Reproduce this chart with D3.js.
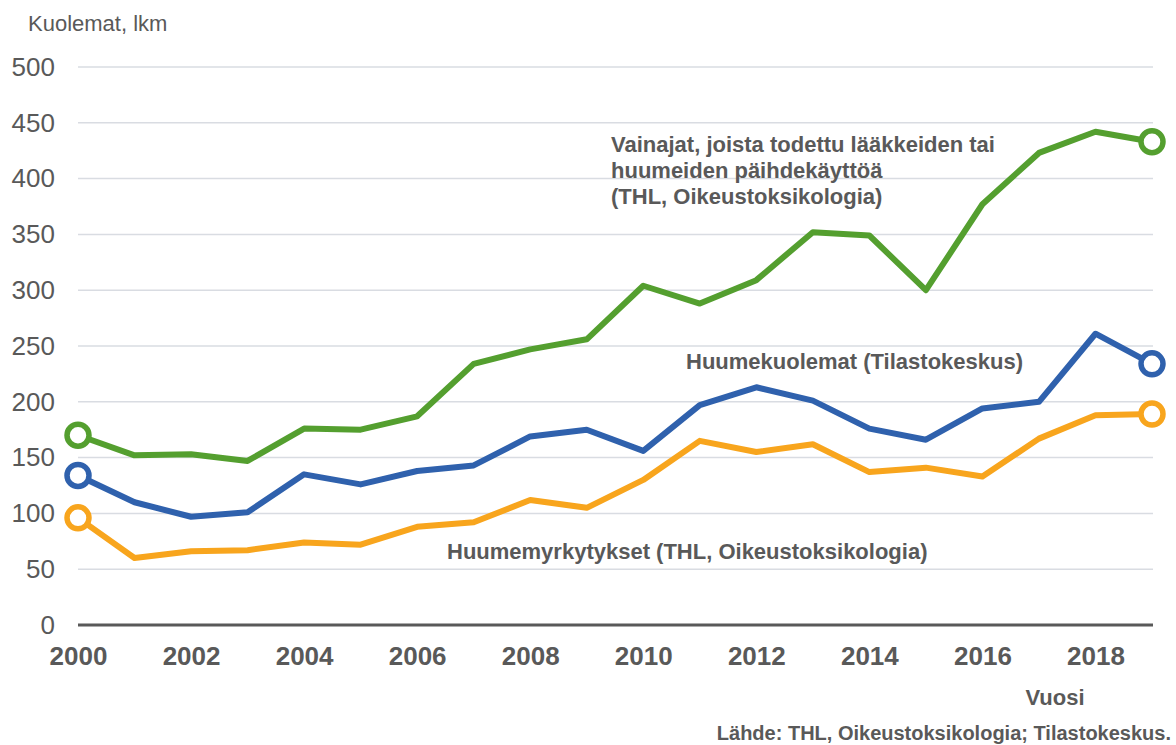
<!DOCTYPE html>
<html>
<head>
<meta charset="utf-8">
<script src="https://cdn.jsdelivr.net/npm/d3@7"></script>
<style>
  body { margin: 0; background: #fff; }
  svg text { font-family: "Liberation Sans", Arial, sans-serif; fill: #595959; }
</style>
</head>
<body>
<div id="chart"></div>
<script>
var years = d3.range(2000, 2020);
var vainajat = [170, 152, 153, 147, 176, 175, 187, 234, 247, 256, 304, 288, 309, 352, 349, 300, 377, 423, 442, 433];
var huumekuolemat = [134, 110, 97, 101, 135, 126, 138, 143, 169, 175, 156, 197, 213, 201, 176, 166, 194, 200, 261, 234];
var myrkytykset = [96, 60, 66, 67, 74, 72, 88, 92, 112, 105, 130, 165, 155, 162, 137, 141, 133, 167, 188, 189];
var yTicks = [0, 50, 100, 150, 200, 250, 300, 350, 400, 450, 500];
var xTicks = [2000, 2002, 2004, 2006, 2008, 2010, 2012, 2014, 2016, 2018];

var series = [
    { name: "vainajat", values: vainajat, color: "#549f2f" },
    { name: "huumekuolemat", values: huumekuolemat, color: "#2f61ad" },
    { name: "myrkytykset", values: myrkytykset, color: "#f8a51d" }
];

var width = 1176, height = 745;
var margin = { top: 67, right: 24, bottom: 120, left: 78 };
var innerH = height - margin.top - margin.bottom;

var svg = d3.select("#chart").append("svg")
    .attr("width", width)
    .attr("height", height);

var g = svg.append("g")
    .attr("transform", "translate(" + margin.left + "," + margin.top + ")");

var xScale = d3.scaleLinear().domain([2000, 2019]).range([0, 1074]);
var yScale = d3.scaleLinear().domain([0, 500]).range([innerH + 0, 0]);

// grid
g.selectAll(".grid")
    .data(yTicks.filter(function (d) { return d > 0; }))
    .enter().append("line")
    .attr("class", "grid")
    .attr("x1", 0)
    .attr("x2", 1075)
    .attr("y1", function (d) { return yScale(d); })
    .attr("y2", function (d) { return yScale(d); })
    .attr("stroke", "#d9dce2")
    .attr("stroke-width", 1.5);

// y labels
var yAxis = g.append("g")
    .call(d3.axisLeft(yScale).tickValues(yTicks).tickSize(0).tickPadding(23));
yAxis.select(".domain").remove();
yAxis.selectAll("text")
    .style("font-size", "26px")
    .attr("fill", "#595959");

// x axis
var xAxis = g.append("g")
    .attr("transform", "translate(0," + yScale(0) + ")")
    .call(d3.axisBottom(xScale).tickValues(xTicks).tickFormat(d3.format("d")).tickSize(0).tickPadding(22));
xAxis.select(".domain")
    .attr("stroke", "#595959")
    .attr("stroke-width", 3)
    .attr("d", "M0,0H1075");
xAxis.selectAll("text")
    .style("font-size", "26px")
    .style("font-weight", "bold")
    .attr("fill", "#595959");

var line = d3.line()
    .x(function (d, i) { return xScale(years[i]); })
    .y(function (d) { return yScale(d); });

series.forEach(function (s) {
    g.append("path")
        .datum(s.values)
        .attr("fill", "none")
        .attr("stroke", s.color)
        .attr("stroke-width", 6)
        .attr("stroke-linejoin", "round")
        .attr("d", line);

    var ends = [0, s.values.length - 1];
    g.selectAll(".m-" + s.name)
        .data(ends)
        .enter().append("circle")
        .attr("cx", function (i) { return xScale(years[i]); })
        .attr("cy", function (i) { return yScale(s.values[i]); })
        .attr("r", 11)
        .attr("fill", "#fff")
        .attr("stroke", s.color)
        .attr("stroke-width", 5.5);
});

// texts
svg.append("text")
    .attr("x", 28)
    .attr("y", 31)
    .style("font-size", "22px")
    .text("Kuolemat, lkm");

var notes = svg.append("g").style("font-size", "22px").style("font-weight", "bold");
notes.append("text").attr("x", 611).attr("y", 152).text("Vainajat, joista todettu lääkkeiden tai");
notes.append("text").attr("x", 611).attr("y", 178).text("huumeiden päihdekäyttöä");
notes.append("text").attr("x", 611).attr("y", 204).text("(THL, Oikeustoksikologia)");
notes.append("text").attr("x", 686).attr("y", 369).text("Huumekuolemat (Tilastokeskus)");
notes.append("text").attr("x", 447).attr("y", 559).text("Huumemyrkytykset (THL, Oikeustoksikologia)");

svg.append("text")
    .attr("x", 1055)
    .attr("y", 705)
    .attr("text-anchor", "middle")
    .style("font-size", "22px")
    .style("font-weight", "bold")
    .text("Vuosi");

svg.append("text")
    .attr("x", 1171)
    .attr("y", 740)
    .attr("text-anchor", "end")
    .style("font-size", "20px")
    .style("font-weight", "bold")
    .text("Lähde: THL, Oikeustoksikologia; Tilastokeskus.");
</script>
</body>
</html>
